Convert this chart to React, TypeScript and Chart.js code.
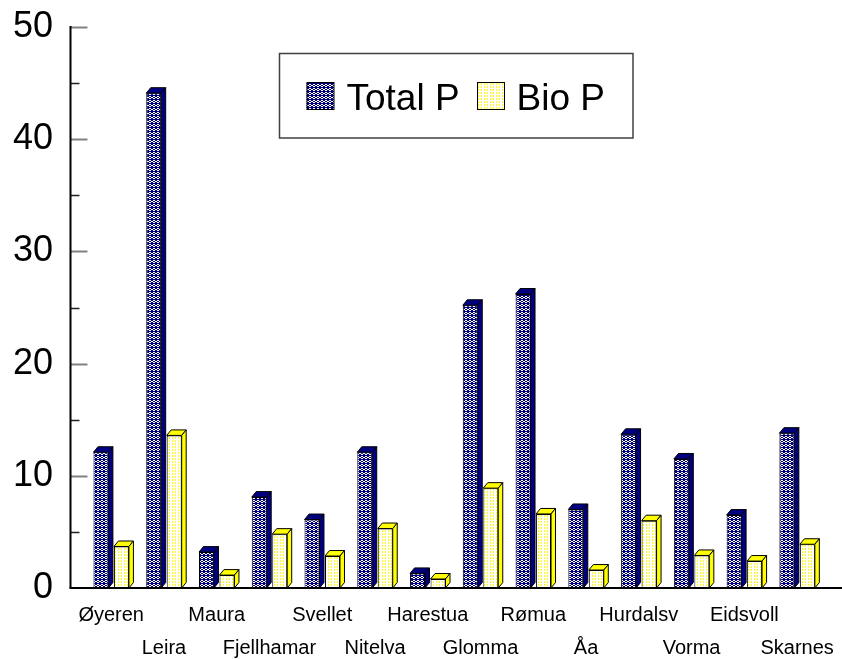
import { useEffect, useRef } from 'react';
import { Chart, registerables } from 'chart.js';

Chart.register(...registerables);

const categories = ['Øyeren', 'Leira', 'Maura', 'Fjellhamar', 'Svellet', 'Nitelva', 'Harestua', 'Glomma', 'Rømua', 'Åa', 'Hurdalsv', 'Vorma', 'Eidsvoll', 'Skarnes'];
const totalP = [12.1, 44.1, 3.2, 8.1, 6.1, 12.1, 1.3, 25.2, 26.2, 7.0, 13.7, 11.5, 6.5, 13.8];
const bioP = [3.7, 13.6, 1.15, 4.8, 2.85, 5.3, 0.8, 8.9, 6.6, 1.6, 6.0, 2.9, 2.4, 3.9];
const seriesNames = ['Total P', 'Bio P'];
const yMin = 0;
const yMax = 50;
const yStep = 10;
const yMinorStep = 5;

const NAVY = '#000080';
const YELLOW = '#FFFF00';
const DX = 4.5;
const DY = 5.5;
const FONT = "'Liberation Sans', Arial, sans-serif";

function makeBluePattern(ctx: CanvasRenderingContext2D) {
  const c = document.createElement('canvas');
  c.width = 4; c.height = 4;
  const g = c.getContext('2d')!;
  g.fillStyle = NAVY;
  g.fillRect(0, 0, 4, 4);
  g.fillStyle = '#FFFFFF';
  const rows = ['.WW.', 'W..W', '.WW.', '....'];
  rows.forEach((r, y) => r.split('').forEach((ch, x) => { if (ch === 'W') g.fillRect(x, y, 1, 1); }));
  return ctx.createPattern(c, 'repeat')!;
}

function makeYellowPattern(ctx: CanvasRenderingContext2D) {
  const c = document.createElement('canvas');
  c.width = 3; c.height = 3;
  const g = c.getContext('2d')!;
  g.fillStyle = '#FFFFFF';
  g.fillRect(0, 0, 3, 3);
  g.fillStyle = YELLOW;
  g.fillRect(1, 0, 1, 1);
  g.fillRect(1, 2, 1, 1);
  return ctx.createPattern(c, 'repeat')!;
}

const faceColors = [NAVY, YELLOW];

const depthPlugin = {
  id: 'depth3d',
  afterDatasetDraw(chart: any, args: any) {
    const meta = chart.getDatasetMeta(args.index);
    const ctx: CanvasRenderingContext2D = chart.ctx;
    const color = faceColors[args.index];
    ctx.save();
    ctx.lineWidth = 1;
    ctx.strokeStyle = '#000000';
    ctx.lineJoin = 'miter';
    meta.data.forEach((bar: any) => {
      const { x, y, base, width } = bar.getProps(['x', 'y', 'base', 'width'], true);
      const l = x - width / 2;
      const r = x + width / 2;
      ctx.fillStyle = color;
      ctx.beginPath();
      ctx.moveTo(l, y);
      ctx.lineTo(l + DX, y - DY);
      ctx.lineTo(r + DX, y - DY);
      ctx.lineTo(r, y);
      ctx.closePath();
      ctx.fill();
      ctx.stroke();
      ctx.beginPath();
      ctx.moveTo(r, y);
      ctx.lineTo(r + DX, y - DY);
      ctx.lineTo(r + DX, base - DY);
      ctx.lineTo(r, base);
      ctx.closePath();
      ctx.fill();
      ctx.stroke();
    });
    ctx.restore();
  },
};

const axesPlugin = {
  id: 'customAxes',
  afterDraw(chart: any) {
    const ctx: CanvasRenderingContext2D = chart.ctx;
    const ys = chart.scales.y;
    const axisX = 70.5;
    const top = ys.getPixelForValue(yMax);
    const bottom = ys.getPixelForValue(yMin);
    ctx.save();
    for (let v = yMin; v <= yMax; v += yMinorStep) {
      if (v === yMin) continue;
      const py = Math.round(ys.getPixelForValue(v)) + 0.5;
      const major = v % yStep === 0;
      ctx.beginPath();
      ctx.strokeStyle = major ? '#808080' : '#202020';
      ctx.lineWidth = major ? 2 : 1.5;
      ctx.moveTo(axisX, py);
      ctx.lineTo(axisX + (major ? 17 : 9), py);
      ctx.stroke();
    }
    ctx.strokeStyle = '#000000';
    ctx.lineWidth = 2;
    ctx.beginPath();
    ctx.moveTo(axisX, top - 1);
    ctx.lineTo(axisX, bottom);
    ctx.stroke();
    ctx.beginPath();
    ctx.moveTo(axisX - 1, bottom);
    ctx.lineTo(chart.width, bottom);
    ctx.stroke();
    ctx.restore();
  },
};

const legendPlugin = {
  id: 'boxLegend',
  afterDraw(chart: any) {
    const ctx: CanvasRenderingContext2D = chart.ctx;
    ctx.save();
    ctx.strokeStyle = '#404040';
    ctx.lineWidth = 1.5;
    ctx.strokeRect(279.5, 53.5, 353.5, 84.5);
    const fills = chart.data.datasets.map((d: any) => d.backgroundColor);
    const markers = [306.5, 477];
    const texts = [346.5, 516.5];
    ctx.font = `37px ${FONT}`;
    ctx.textBaseline = 'alphabetic';
    ctx.textAlign = 'left';
    chart.data.datasets.forEach((d: any, i: number) => {
      ctx.fillStyle = fills[i];
      ctx.fillRect(markers[i], 82, 27.5, 27.5);
      ctx.strokeStyle = '#000000';
      ctx.lineWidth = 1;
      ctx.strokeRect(markers[i] + 0.5, 82.5, 27, 27);
      ctx.fillStyle = '#000000';
      ctx.fillText(d.label, texts[i], 110);
    });
    ctx.restore();
  },
};

export default function App() {
  const ref = useRef<HTMLCanvasElement | null>(null);
  useEffect(() => {
    document.body.style.margin = '0';
    const canvas = ref.current!;
    const ctx = canvas.getContext('2d')!;
    const labels = categories.map((c, i) => (i % 2 === 0 ? [c, ''] : ['', c]));
    const chart = new Chart(ctx, {
      type: 'bar',
      data: {
        labels,
        datasets: [
          { label: seriesNames[0], data: totalP, backgroundColor: makeBluePattern(ctx) as any, borderColor: '#000000', borderWidth: 1, borderSkipped: false },
          { label: seriesNames[1], data: bioP, backgroundColor: makeYellowPattern(ctx) as any, borderColor: '#000000', borderWidth: 1, borderSkipped: false },
        ],
      },
      options: {
        responsive: false,
        animation: false,
        devicePixelRatio: 1,
        layout: { padding: { top: 27, right: 18.5, left: 0, bottom: 0 } },
        datasets: { bar: { categoryPercentage: 0.777, barPercentage: 0.73 } },
        plugins: { legend: { display: false }, tooltip: { enabled: false } },
        scales: {
          x: {
            type: 'category',
            offset: true,
            grid: { display: false, drawTicks: false, tickLength: 0 },
            border: { display: false },
            ticks: {
              autoSkip: false,
              maxRotation: 0,
              minRotation: 0,
              padding: 11,
              color: '#000000',
              font: { family: FONT, size: 20, lineHeight: 1.65 },
            },
            afterFit: (s: any) => { s.height = 71; s.paddingLeft = 0; s.paddingRight = 0; },
          },
          y: {
            min: yMin,
            max: yMax,
            grid: { display: false, drawTicks: false, tickLength: 0 },
            border: { display: false },
            ticks: {
              stepSize: yStep,
              padding: 31.8,
              color: '#000000',
              font: { family: FONT, size: 36 },
            },
            afterFit: (s: any) => { s.width = 84.8; s.paddingTop = 0; s.paddingBottom = 0; },
          },
        },
      },
      plugins: [depthPlugin, axesPlugin, legendPlugin],
    });
    return () => chart.destroy();
  }, []);
  return (
    <div style={{ width: 842, height: 659 }}>
      <canvas ref={ref} width={842} height={659} style={{ display: 'block' }} />
    </div>
  );
}
